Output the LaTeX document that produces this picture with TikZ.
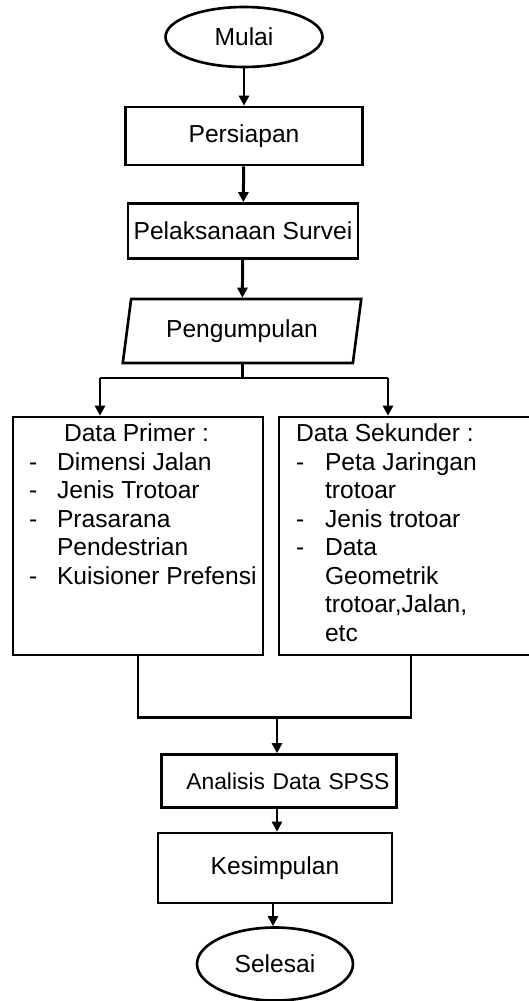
\documentclass[tikz,border=0pt]{standalone}
\usepackage{fontspec}
\setmainfont{Liberation Sans}
\usetikzlibrary{shapes.geometric,arrows.meta}

\begin{document}
\begin{tikzpicture}[x=0.02cm, y=-0.02cm, >={Triangle[length=0.2cm,width=0.2cm]},
		font=\fontsize{14}{16.2}\selectfont,
		terminal/.style={draw, ellipse, line width=1.5pt, inner sep=0pt},
		proses/.style={draw, rectangle, line width=1.5pt, inner sep=0pt},
		masukan/.style={draw, trapezium, trapezium left angle=76, trapezium right angle=104,
			trapezium stretches=true, line width=1.5pt, inner sep=0pt},
		daftar/.style={anchor=north west, inner sep=0pt},
		panah/.style={->, line width=1.7pt},
		garis/.style={line width=1.7pt}]
	\useasboundingbox (0,0) rectangle (528,1001);
	% alur utama
	\node[terminal, minimum width=3.14cm, minimum height=1.2cm] (mulai) at (244,37) {Mulai};
	\node[proses, minimum width=4.74cm, minimum height=1.16cm] (persiapan) at (244,136) {Persiapan};
	\node[proses, minimum width=4.6cm, minimum height=1.1cm] (survei) at (243,231) {Pelaksanaan Survei};
	\node[masukan, minimum width=4.8cm, minimum height=1.28cm] (kumpul) at (242,331) {Pengumpulan};
	% data primer dan sekunder
	\node[proses, minimum width=5cm, minimum height=4.76cm] (primer) at (138,536) {};
	\node[proses, minimum width=5.28cm, minimum height=4.76cm] (sekunder) at (411,536) {};
	\node[daftar] (isiprimer) at ([xshift=0.34cm,yshift=-0.12cm]primer.north west) {%
		\begin{tabular}{@{}p{0.56cm}@{}l@{}}
			\multicolumn{2}{@{\hspace{0.7cm}}l@{}}{Data Primer :}\\
			- & Dimensi Jalan\\
			- & Jenis Trotoar\\
			- & Prasarana\\
			  & Pendestrian\\
			- & Kuisioner Prefensi
		\end{tabular}};
	\node[daftar] (isisekunder) at ([xshift=0.36cm,yshift=-0.12cm]sekunder.north west) {%
		\begin{tabular}{@{}p{0.58cm}@{}l@{}}
			\multicolumn{2}{@{}l@{}}{Data Sekunder :}\\
			- & Peta Jaringan\\
			  & trotoar\\
			- & Jenis trotoar\\
			- & Data\\
			  & Geometrik\\
			  & trotoar,Jalan,\\
			  & etc
		\end{tabular}};
	% analisis sampai selesai
	\node[proses, minimum width=4.7cm, minimum height=1.06cm, text width=4.42cm, inner xsep=0.14cm, align=right,
		font=\fontsize{13}{16}\selectfont] (analisis) at (279,781) {Analisis Data SPSS};
	\node[proses, minimum width=4.68cm, minimum height=1.4cm] (simpulan) at (275,868) {Kesimpulan};
	\node[terminal, minimum width=3.12cm, minimum height=1.46cm] (selesai) at (275,964) {Selesai};
	% percabangan
	\coordinate (cabang) at (kumpul.south |- 0,378);
	\coordinate (kiri) at (100,378);
	\coordinate (kanan) at (388,378);
	\coordinate (gabung) at (277,717);
	\draw[panah] (mulai) -- (persiapan);
	\draw[panah] (persiapan) -- (survei);
	\draw[panah] (survei) -- (kumpul);
	\draw[garis] (kumpul.south) -- (cabang);
	\draw[garis] (kiri) -- (kanan);
	\draw[panah] (kiri) -- (kiri |- primer.north);
	\draw[panah] (kanan) -- (kanan |- sekunder.north);
	\draw[garis] (primer.south) |- (gabung);
	\draw[garis] (sekunder.south) |- (gabung);
	\draw[panah] (gabung) -- (gabung |- analisis.north);
	\draw[panah] (gabung |- analisis.south) -- (gabung |- simpulan.north);
	\draw[panah] ([xshift=-0.08cm]gabung |- simpulan.south) -- ([xshift=-0.08cm]gabung |- selesai.north);
\end{tikzpicture}
\end{document}
